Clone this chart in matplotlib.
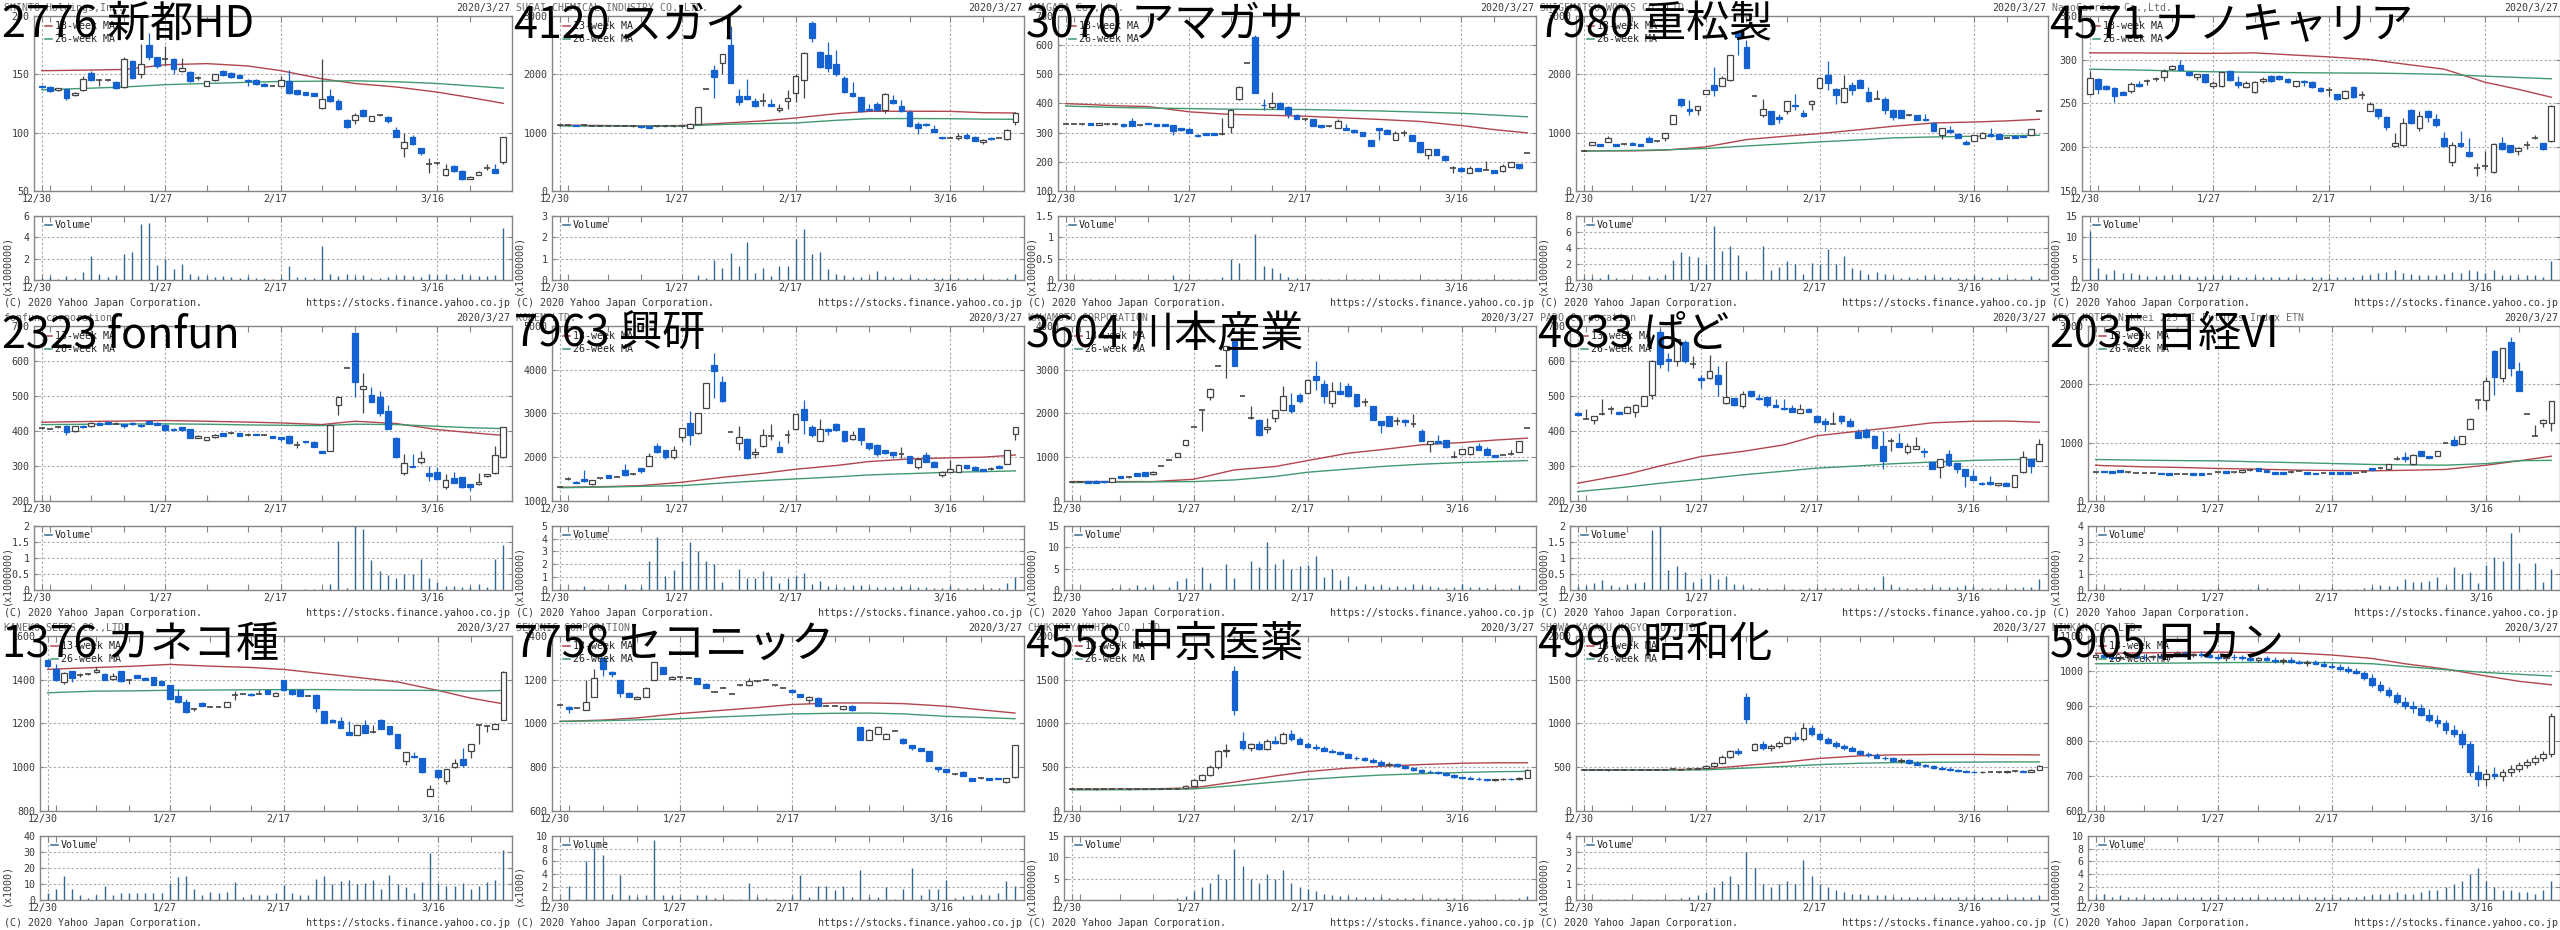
import matplotlib
matplotlib.use("Agg")
import matplotlib.pyplot as plt
from matplotlib.patches import Rectangle
from matplotlib.lines import Line2D
from matplotlib.transforms import ScaledTranslation

plt.rcParams["font.family"] = ["DejaVu Sans Mono"]

W, H = 2560, 930
PW, PH = 512, 310
FS = 7.2
BLUE = "#1462d0"
DARK = "#454545"
RED_MA = "#b3454c"
GREEN_MA = "#3f9a70"
VOL = "#33698e"
GRID = "#a9a9a9"
FRAME = "#858585"
TXT = "#3a3a3a"

# trading days 2019/12/30 - 2020/3/27
days = ["12/30", "1/6", "1/7", "1/8", "1/9", "1/10", "1/14", "1/15", "1/16", "1/17",
        "1/20", "1/21", "1/22", "1/23", "1/24", "1/27", "1/28", "1/29", "1/30", "1/31",
        "2/3", "2/4", "2/5", "2/6", "2/7", "2/10", "2/12", "2/13", "2/14",
        "2/17", "2/18", "2/19", "2/20", "2/21", "2/25", "2/26", "2/27", "2/28",
        "3/2", "3/3", "3/4", "3/5", "3/6", "3/9", "3/10", "3/11", "3/12", "3/13",
        "3/16", "3/17", "3/18", "3/19", "3/23", "3/24", "3/25", "3/26", "3/27"]
week_starts = ["12/30", "1/6", "1/14", "1/20", "1/27", "2/3", "2/10", "2/17",
               "2/25", "3/2", "3/9", "3/16", "3/23"]
major_days = ["12/30", "1/27", "2/17", "3/16"]
ma_days = week_starts + ["3/27"]

# ---------------- 2776 新都HD ----------------
ohlc_2776 = [
    (140, 141, 138, 139), (139, 140, 135, 135.5), (136, 138.5, 135.5, 138), (137, 137.5, 128, 130),
    (132, 135, 131.5, 134), (136, 148, 135.5, 146), (151, 153, 144, 145), (145, 146, 140, 145),
    (145, 146, 144, 145), (143.5, 144, 137, 138), (139, 165, 138, 163), (161, 162, 146, 147),
    (150, 176, 147, 159), (175, 185, 162, 165), (164.5, 165, 155, 157), (163, 174, 158, 163),
    (163, 164, 150, 154), (153, 164, 152, 155), (152, 153, 143, 144), (147, 148, 145, 147),
    (140, 144.5, 139.5, 144), (145, 150.5, 144.5, 150), (153, 153.5, 148.5, 149), (151, 151.5, 147, 147.4),
    (149.4, 149.5, 146.5, 147), (145, 145.5, 140, 144.5), (145, 145.5, 141, 141.4), (141.7, 142, 139.5, 140),
    (140, 141, 139.5, 140), (140, 148, 139.5, 145), (144.3, 153.7, 132.9, 134), (136, 136.5, 132.5, 133),
    (134.3, 134.5, 132, 132.3), (133.7, 134, 131, 131.4), (121.4, 162.9, 120, 129), (131.7, 137, 126, 126.6),
    (126.6, 128.9, 119.5, 120), (110.9, 111.5, 104, 105), (110.9, 116.6, 107.4, 115), (119.4, 120, 113.5, 114),
    (110, 114.5, 109.5, 114.3), (115, 116, 114, 115), (113.7, 114, 108, 110.3), (102.3, 105, 96, 96.6),
    (86.6, 99.4, 79.4, 91.7), (96.6, 97.5, 89.5, 90.3), (86.6, 87, 80.9, 82.9), (73, 78, 65.7, 72.9),
    (73.7, 75, 72, 73.7), (63.7, 72.9, 63, 68.6), (71.7, 72.5, 66.5, 67), (67.4, 68, 59.5, 60),
    (60.3, 62.8, 60, 62.3), (63.7, 66.8, 63.5, 66.6), (69.4, 73, 68, 69.4), (68.9, 73, 65.5, 65.7),
    (74.6, 96.5, 72.9, 96)]
vol_2776 = [0.15, 0.25, 0.06, 0.4, 0.15, 0.7, 2.2, 0.55, 0.25, 0.45, 2.45, 2.65, 5.25, 5.35, 1.4,
            2.0, 1.0, 1.5, 0.55, 0.35, 0.35, 0.3, 0.35, 0.25, 0.2, 0.25, 0.15, 0.2, 0.12, 0.2,
            1.3, 0.25, 0.25, 0.15, 3.2, 0.55, 0.4, 0.6, 0.3, 0.45, 0.2, 0.2, 0.3, 0.35, 0.45,
            0.35, 0.3, 0.55, 0.35, 0.6, 0.15, 0.55, 0.4, 0.35, 0.35, 0.45, 4.85]
ma13_2776 = [153, 153, 153.5, 154, 158, 159, 157, 153, 146, 142, 139, 134.6, 130, 125]
ma26_2776 = [136.6, 136.8, 138, 139, 141, 142, 143, 143.7, 144, 144.3, 143.5, 142, 140, 138]

# ---------------- 4120 スガイ ----------------
ohlc_4120 = [
    (1125, 1130, 1110, 1120), (1125, 1130, 1115, 1120), (1130, 1135, 1110, 1115), (1125, 1130, 1115, 1120),
    (1120, 1130, 1110, 1115), (1120, 1125, 1110, 1115), (1118, 1125, 1110, 1112), (1115, 1120, 1105, 1110),
    (1115, 1120, 1105, 1110), (1115, 1120, 1100, 1108), (1115, 1120, 1085, 1090), (1110, 1115, 1080, 1085),
    (1105, 1115, 1095, 1100), (1110, 1120, 1100, 1105), (1105, 1115, 1090, 1100), (1108, 1120, 1095, 1108),
    (1085, 1160, 1080, 1153), (1145, 1440, 1140, 1435), (1750, 1750, 1750, 1750), (2070, 2150, 1590, 1950),
    (2195, 2350, 2005, 2345), (2505, 2830, 1840, 1850), (1620, 1750, 1465, 1520), (1620, 1920, 1550, 1580),
    (1535, 1590, 1435, 1450), (1535, 1675, 1450, 1530), (1495, 1580, 1450, 1455), (1385, 1495, 1350, 1425),
    (1545, 1720, 1410, 1585), (1685, 2005, 1520, 1975), (1895, 2375, 1595, 2360), (2875, 2915, 2545, 2615),
    (2385, 2400, 2110, 2120), (2320, 2545, 2035, 2100), (2165, 2415, 1975, 1995), (1935, 1975, 1680, 1695),
    (1680, 1865, 1610, 1620), (1605, 1610, 1350, 1370), (1410, 1495, 1370, 1380), (1495, 1520, 1365, 1380),
    (1390, 1675, 1335, 1665), (1550, 1645, 1495, 1505), (1450, 1560, 1350, 1365), (1350, 1380, 1095, 1115),
    (1155, 1180, 983, 1080), (1155, 1165, 1120, 1130), (1055, 1125, 1005, 1010), (925, 930, 890, 900),
    (915, 920, 905, 915), (900, 985, 870, 935), (955, 985, 890, 900), (925, 940, 850, 860),
    (840, 890, 810, 880), (910, 920, 875, 885), (905, 915, 900, 910), (890, 1060, 880, 1050),
    (1185, 1350, 1125, 1340)]
vol_4120 = [0.02, 0.02, 0.02, 0.02, 0.02, 0.02, 0.02, 0.02, 0.02, 0.02, 0.02, 0.02, 0.02, 0.02, 0.02,
            0.02, 0.02, 0.23, 0.1, 0.95, 0.58, 1.25, 0.67, 1.77, 0.31, 0.58, 0.19, 0.63, 0.67, 1.92,
            2.39, 1.22, 1.3, 0.52, 0.28, 0.22, 0.16, 0.13, 0.08, 0.42, 0.19, 0.13, 0.11, 0.13, 0.08,
            0.11, 0.08, 0.08, 0.11, 0.11, 0.08, 0.08, 0.08, 0.06, 0.06, 0.08, 0.28]
ma13_4120 = [1125, 1125, 1120, 1115, 1120, 1160, 1200, 1250, 1323, 1363, 1365, 1363, 1340, 1335]
ma26_4120 = [1113, 1113, 1113, 1110, 1110, 1140, 1155, 1164, 1210, 1238, 1240, 1238, 1230, 1227]

# ---------------- 3070 アマガサ ----------------
ohlc_3070 = [
    (331, 333, 329, 330), (330, 332, 328, 330), (329, 331, 327, 329), (333, 334, 325, 326),
    (327, 334, 326, 333), (328, 330, 326, 328), (329, 333, 325, 329), (328, 329, 320, 321),
    (338, 351, 323, 324), (325, 327, 323, 325), (332, 333, 328, 329), (329, 330, 323, 324),
    (329, 330, 323, 324), (325, 326, 293, 305), (314, 315, 307, 308), (313, 314, 298, 299),
    (293, 294, 286, 287), (299, 300, 292, 293), (297, 298, 291, 292), (295, 350, 293, 296),
    (320, 380, 299, 377), (416, 458, 413, 456), (538, 538, 538, 538), (626, 634, 437, 437),
    (395, 414, 376, 393), (387, 439, 379, 402), (401, 405, 380, 382), (389, 390, 350, 362),
    (361, 362, 346, 347), (345, 350, 340, 345), (345, 346, 321, 322), (325, 326, 317, 318),
    (321, 322, 318, 320), (317, 347, 316, 340), (314, 330, 308, 309), (310, 311, 300, 301),
    (302, 303, 288, 289), (274, 275, 253, 254), (316, 317, 276, 310), (310, 311, 294, 295),
    (274, 305, 273, 298), (299, 310, 288, 299), (290, 291, 271, 272), (267, 268, 231, 232),
    (224, 245, 209, 244), (244, 245, 223, 224), (221, 222, 204, 205), (178, 186, 161, 178),
    (180, 181, 169, 170), (161, 186, 160, 178), (178, 179, 169, 170), (172, 203, 171, 173),
    (172, 173, 162, 163), (170, 191, 164, 187), (182, 199, 181, 198), (193, 194, 177, 178),
    (230, 230, 230, 230)]
vol_3070 = [0.02, 0.02, 0.02, 0.02, 0.02, 0.02, 0.02, 0.02, 0.02, 0.02, 0.02, 0.02, 0.02, 0.11, 0.02,
            0.02, 0.02, 0.02, 0.02, 0.08, 0.48, 0.39, 0.02, 1.07, 0.33, 0.27, 0.16, 0.06, 0.04, 0.03,
            0.02, 0.02, 0.02, 0.02, 0.02, 0.02, 0.02, 0.02, 0.02, 0.02, 0.02, 0.02, 0.02, 0.02, 0.02,
            0.02, 0.02, 0.02, 0.02, 0.02, 0.02, 0.03, 0.02, 0.02, 0.02, 0.02, 0.02]
ma13_3070 = [399, 398, 392, 389, 371, 362, 359, 356, 350, 345, 338, 324, 310, 299]
ma26_3070 = [391, 390, 386, 384, 382, 380, 379, 379, 376, 374, 370, 366, 360, 354]

# ---------------- 7980 重松製 ----------------
ohlc_7980 = [
    (690, 700, 680, 687), (795, 845, 790, 840), (805, 810, 770, 775), (841, 935, 835, 909),
    (801, 805, 770, 773), (801, 810, 790, 800), (829, 832, 790, 795), (801, 805, 770, 773),
    (909, 935, 835, 841), (852, 860, 845, 852), (915, 1000, 860, 995), (1153, 1300, 1150, 1295),
    (1580, 1590, 1437, 1478), (1410, 1560, 1300, 1363), (1380, 1450, 1300, 1448), (1665, 1735, 1660, 1730),
    (1818, 2130, 1620, 1732), (1795, 1975, 1790, 1935), (1905, 2330, 1890, 2330), (2725, 2745, 2320, 2630),
    (2470, 2585, 2100, 2100), (1620, 1620, 1620, 1620), (1295, 1580, 1265, 1397), (1363, 1370, 1125, 1153),
    (1265, 1320, 1165, 1240), (1363, 1545, 1320, 1534), (1475, 1665, 1380, 1450), (1340, 1380, 1265, 1285),
    (1494, 1550, 1390, 1534), (1766, 1950, 1750, 1937), (1977, 2232, 1721, 1846), (1750, 1755, 1494, 1647),
    (1522, 1977, 1505, 1761), (1806, 1860, 1640, 1732), (1903, 1920, 1760, 1761), (1693, 1775, 1520, 1534),
    (1580, 1720, 1570, 1575), (1580, 1610, 1325, 1380), (1392, 1395, 1221, 1267), (1380, 1385, 1250, 1255),
    (1295, 1310, 1280, 1295), (1295, 1300, 1215, 1221), (1238, 1325, 1205, 1210), (1164, 1170, 1020, 1028),
    (966, 1085, 897, 1079), (1040, 1105, 1000, 1005), (983, 990, 910, 915), (841, 880, 780, 812),
    (852, 958, 848, 954), (909, 1003, 905, 1000), (983, 1070, 930, 937), (971, 975, 893, 897),
    (915, 925, 905, 915), (943, 950, 905, 909), (949, 955, 922, 926), (966, 1060, 960, 1057),
    (1370, 1370, 1370, 1370)]
vol_7980 = [0.3, 0.2, 0.3, 0.75, 0.3, 0.15, 0.15, 0.1, 0.5, 0.3, 0.6, 2.5, 3.45, 3.0, 2.8,
            1.95, 6.75, 3.65, 4.25, 3.1, 1.1, 0.08, 4.25, 1.3, 1.65, 2.35, 1.95, 0.75, 2.15, 1.95,
            3.85, 1.95, 3.0, 1.55, 1.3, 0.75, 1.05, 0.75, 0.4, 0.3, 0.4, 0.3, 0.6, 0.4, 0.4,
            0.33, 0.3, 0.2, 0.5, 0.33, 0.3, 0.33, 0.2, 0.2, 0.15, 0.5, 0.2]
ma13_7980 = [687, 687, 687, 699, 755, 880, 940, 983, 1050, 1108, 1164, 1181, 1200, 1227]
ma26_7980 = [682, 684, 695, 705, 727, 770, 810, 841, 875, 909, 925, 937, 945, 954]

# ---------------- 4571 ナノキャリア ----------------
ohlc_4571 = [
    (261, 287, 260, 279), (278, 279, 261, 266), (270, 271, 265, 266), (268, 269, 251, 258),
    (262.6, 264, 259, 260), (264, 274, 262, 272), (272.5, 275, 269, 269.5), (275, 278, 271, 275),
    (278, 280, 275, 278), (280, 289, 276, 287), (289, 293.5, 288, 293), (294, 299, 288, 288.5),
    (285.5, 286, 281, 282), (280, 284, 277, 283), (283, 284, 273, 274), (270, 275, 268, 273),
    (269.5, 286, 269, 285.5), (287, 288, 276, 277), (274, 281, 268, 271), (269, 275, 268, 273),
    (262.6, 275, 262, 274), (275, 280, 273, 277.8), (281, 282, 274, 275), (281, 282, 277, 278),
    (278, 279, 273, 274), (270, 275.5, 269, 275), (276, 277, 270, 274), (274, 275, 268, 268.7),
    (268, 269, 263, 264), (265.6, 269, 258, 265.6), (260.7, 261, 254, 255), (256, 265, 255.5, 264.5),
    (268.7, 270, 256, 257), (259, 264, 255, 259), (241.6, 252, 241, 249.6), (243.5, 244, 232, 236),
    (234, 235, 220, 223), (200.8, 216, 200, 204.6), (202, 233, 201, 228), (242.7, 243, 227, 227.5),
    (221.8, 241, 219, 235), (241, 242, 229, 234), (232, 238, 223, 225.6), (210, 217, 200, 200.8),
    (183, 206, 178, 203), (204.6, 218, 200, 200.8), (195, 211, 189, 190), (176, 181.7, 167, 176),
    (179, 196, 174, 179), (172, 205, 171, 203.4), (205, 212, 197, 198), (202, 203, 193, 195),
    (196, 199.6, 191, 199.6), (202, 207, 198, 202), (211, 214, 209, 211), (204.6, 205, 197, 198),
    (206.5, 248, 206, 247)]
vol_4571 = [11.5, 2.9, 1.4, 2.3, 1.7, 1.7, 1.1, 0.9, 0.9, 1.1, 1.1, 1.4, 0.9, 0.8, 0.9,
            0.9, 1.1, 1.1, 0.8, 0.8, 0.8, 0.6, 0.8, 0.6, 0.6, 0.55, 0.55, 0.6, 0.6, 0.55,
            0.8, 0.8, 0.8, 1.1, 1.1, 1.6, 1.8, 2.3, 1.6, 1.4, 1.1, 1.1, 1.1, 1.4, 1.8,
            1.6, 2.3, 2.1, 1.7, 2.3, 1.1, 1.1, 0.8, 1.1, 1.1, 0.8, 4.5]
ma13_4571 = [307.6, 307.6, 307.5, 307.3, 307, 307.6, 305, 303, 300, 295, 289, 274, 266, 257]
ma26_4571 = [289, 288.8, 288, 287, 286, 285.5, 285, 284.7, 284.5, 284, 283, 281, 279.5, 278]

# ---------------- 2323 fonfun ----------------
ohlc_2323 = [
    (408, 410, 406, 408), (406.5, 409, 404, 406.5), (410, 412, 408, 410), (415, 416, 389, 396),
    (399, 414, 398, 413), (415, 416, 409, 410), (413, 424, 410, 423), (423, 424, 417, 418),
    (425, 426, 420, 421), (421, 424, 419, 421), (420, 421, 408, 415), (423, 424, 418, 419),
    (418, 419, 412, 413), (427.5, 428, 419, 420), (423, 424, 417, 418), (418, 419, 401, 402),
    (406.5, 407, 401, 402), (410, 411, 401, 402), (404, 405, 379, 380), (380, 387, 379, 386),
    (375, 383, 373, 382.6), (382.6, 390, 381, 389), (394, 395, 384, 384.5), (394, 396, 392, 394),
    (394, 395, 384, 384.5), (387, 394, 384, 387), (391, 392, 387, 388), (389, 391, 387, 389),
    (384.5, 385, 379, 380), (381.6, 382, 371, 377), (386, 387, 364, 365), (360.6, 370, 351, 360.6),
    (370, 371, 366, 367), (369, 370, 353, 354), (341.5, 342, 336, 336.7), (343, 420, 342, 418),
    (475, 499, 444, 497), (578, 578, 578, 578), (679, 680, 497, 540), (520, 564, 451, 528),
    (501, 526, 481, 482), (497, 513, 442, 450), (458, 473, 404, 405.5), (380, 382, 323, 325),
    (279, 335, 275, 308), (300, 335, 296, 296.5), (311, 342, 306, 322), (279, 300, 258, 270),
    (282, 297, 260, 262), (241, 276, 233, 260), (265, 283, 250, 250.7), (268, 269, 238, 239),
    (248.7, 249, 229, 239), (248, 279, 247, 253.5), (270, 278, 268, 276.5), (279, 358, 277, 331),
    (325, 412, 324, 411)]
vol_2323 = [0.01, 0.01, 0.01, 0.01, 0.01, 0.01, 0.01, 0.01, 0.01, 0.01, 0.01, 0.01, 0.01, 0.01, 0.01,
            0.01, 0.01, 0.01, 0.01, 0.01, 0.01, 0.01, 0.01, 0.01, 0.01, 0.01, 0.01, 0.01, 0.01, 0.01,
            0.01, 0.01, 0.02, 0.02, 0.03, 0.19, 1.51, 0.05, 2.0, 1.9, 0.92, 0.59, 0.47, 0.36, 0.5,
            0.5, 0.96, 0.36, 0.26, 0.12, 0.12, 0.08, 0.1, 0.19, 0.1, 0.96, 1.41]
ma13_2323 = [424.7, 425, 427, 428, 429.4, 427.5, 425, 422.7, 418, 427.5, 421, 403.6, 395, 387]
ma26_2323 = [418, 418, 419, 419.5, 420, 419, 417, 416, 415, 419, 418, 413, 409, 406.5]

# ---------------- 7963 興研 ----------------
ohlc_7963 = [
    (1328, 1335, 1320, 1328), (1504, 1550, 1480, 1504), (1443, 1450, 1415, 1420), (1496, 1710, 1440, 1465),
    (1381, 1485, 1375, 1480), (1519, 1530, 1510, 1519), (1595, 1600, 1515, 1519), (1557, 1565, 1550, 1557),
    (1710, 1850, 1560, 1595), (1610, 1640, 1600, 1610), (1748, 1760, 1650, 1694), (1809, 2090, 1800, 2038),
    (2244, 2320, 2090, 2129), (2167, 2170, 1960, 2000), (2000, 2260, 1950, 2167), (2457, 2670, 2358, 2663),
    (2778, 3045, 2282, 2495), (2549, 3010, 2540, 3007), (3121, 3700, 3115, 3693), (4113, 4380, 3350, 3960),
    (3709, 3846, 3270, 3274), (2572, 2572, 2572, 2572), (2320, 2717, 2167, 2457), (2419, 2430, 1960, 1977),
    (2076, 2200, 1980, 2129), (2244, 2648, 2240, 2510), (2488, 2750, 2400, 2488), (2228, 2380, 2120, 2129),
    (2510, 2610, 2320, 2510), (2640, 2995, 2630, 2991), (3106, 3312, 2534, 2839), (2686, 2740, 2470, 2510),
    (2373, 2869, 2365, 2640), (2648, 2660, 2510, 2587), (2755, 2780, 2600, 2610), (2587, 2595, 2340, 2358),
    (2412, 2590, 2400, 2511), (2663, 2670, 2280, 2381), (2320, 2325, 2160, 2205), (2282, 2290, 2030, 2076),
    (2167, 2170, 2080, 2091), (2114, 2120, 1980, 2053), (2068, 2240, 1980, 2068), (2030, 2035, 1870, 1877),
    (1770, 1960, 1740, 1954), (2053, 2115, 1895, 1900), (1900, 1905, 1765, 1770), (1595, 1675, 1540, 1671),
    (1671, 1940, 1665, 1725), (1671, 1850, 1660, 1824), (1824, 1830, 1740, 1748), (1786, 1795, 1700, 1710),
    (1725, 1730, 1690, 1694), (1733, 1780, 1700, 1733), (1809, 1815, 1755, 1763), (1847, 2170, 1840, 2167),
    (2534, 2690, 2381, 2679)]
vol_7963 = [0.08, 0.05, 0.05, 0.3, 0.08, 0.05, 0.05, 0.05, 0.47, 0.08, 0.2, 2.29, 4.11, 1.12, 1.56,
            2.29, 3.72, 3.0, 2.27, 2.03, 0.6, 0.05, 1.61, 0.91, 0.91, 1.48, 1.09, 0.57, 0.91, 1.12,
            1.3, 0.47, 0.7, 0.31, 0.26, 0.26, 0.39, 0.39, 0.2, 0.2, 0.26, 0.2, 0.31, 0.2, 0.26,
            0.2, 0.18, 0.18, 0.31, 0.18, 0.18, 0.18, 0.13, 0.18, 0.13, 0.57, 1.04]
ma13_7963 = [1313, 1315, 1330, 1351, 1427, 1540, 1633, 1725, 1810, 1900, 1960, 1985, 2000, 2050]
ma26_7963 = [1305, 1305, 1320, 1335, 1351, 1410, 1465, 1504, 1550, 1595, 1625, 1656, 1670, 1687]

# ---------------- 3604 川本産業 ----------------
ohlc_3604 = [
    (443, 450, 435, 443), (443, 450, 435, 443), (458, 462, 415, 420), (465, 470, 415, 420),
    (458, 462, 420, 427), (443, 525, 440, 519), (572, 575, 515, 519), (542, 580, 520, 542),
    (633, 640, 575, 580), (656, 660, 575, 580), (618, 675, 595, 671), (809, 809, 809, 809),
    (938, 938, 938, 938), (1000, 1095, 995, 1091), (1282, 1400, 1244, 1396), (1686, 1686, 1686, 1686),
    (2068, 2068, 1587, 2060), (2373, 2570, 2312, 2564), (3075, 3075, 3075, 3075), (3450, 3533, 2808, 3533),
    (3686, 3700, 3075, 3075), (2388, 2388, 2388, 2388), (1892, 2160, 1880, 1890), (1854, 1860, 1473, 1511),
    (1640, 1892, 1550, 1686), (1892, 2085, 1800, 2083), (2083, 2617, 2070, 2388), (2197, 2464, 2010, 2045),
    (2411, 2464, 2230, 2274), (2464, 2775, 2455, 2770), (2846, 3205, 2541, 2770), (2671, 2770, 2240, 2403),
    (2236, 2717, 2140, 2503), (2503, 2710, 2440, 2450), (2617, 2700, 2380, 2388), (2442, 2450, 2145, 2175),
    (2251, 2350, 2170, 2251), (2160, 2165, 1840, 1854), (1831, 1835, 1549, 1740), (1930, 1935, 1710, 1717),
    (1831, 1915, 1740, 1831), (1854, 1860, 1700, 1801), (1755, 1975, 1690, 1755), (1602, 1640, 1365, 1373),
    (1305, 1360, 1129, 1358), (1373, 1505, 1315, 1320), (1381, 1390, 1220, 1228), (1015, 1130, 985, 1015),
    (1076, 1190, 1070, 1183), (1076, 1260, 1060, 1221), (1244, 1320, 1160, 1167), (1183, 1230, 1045, 1053),
    (1053, 1060, 995, 1000), (1053, 1060, 1045, 1053), (1068, 1170, 1060, 1068), (1114, 1360, 1110, 1358),
    (1663, 1663, 1663, 1663)]
vol_3604 = [0.1, 0.1, 0.1, 0.1, 0.1, 0.4, 0.4, 0.4, 1.2, 0.8, 0.9, 0.05, 0.8, 2.1, 2.7,
            0.15, 5.3, 1.7, 0.05, 6.0, 2.7, 0.05, 6.8, 5.3, 11.2, 6.0, 7.2, 4.8, 5.6, 5.9,
            8.0, 3.0, 4.8, 2.3, 3.3, 0.9, 1.4, 0.9, 1.1, 0.6, 0.9, 0.8, 1.4, 0.9, 0.9,
            0.6, 0.55, 0.8, 1.3, 0.6, 0.8, 0.55, 0.4, 0.25, 0.4, 1.2, 0.15]
ma13_3604 = [443, 443, 443, 443, 496, 710, 786, 923, 1091, 1170, 1282, 1335, 1390, 1434]
ma26_3604 = [420, 422, 430, 438, 443, 481, 560, 656, 730, 786, 840, 877, 900, 923]

# ---------------- 4833 ぱど ----------------
ohlc_4833 = [
    (451.4, 455, 445, 446.6), (435, 461, 434, 435), (432, 443, 421, 442), (449.5, 490, 444, 449.5),
    (461, 471, 447, 461), (455, 456, 448, 449.5), (451, 470, 450, 467.7), (453, 476, 440, 475),
    (472, 500, 471, 499), (501, 601, 490, 600), (681, 690, 578, 590), (606, 622, 572, 598),
    (600, 663, 585, 662), (654, 660, 595, 600), (592, 613, 580, 592), (550, 560, 521, 544),
    (552, 616, 548, 571), (559.6, 585, 499, 535), (480, 600, 478, 497), (494, 495, 470, 475),
    (470, 513, 465, 504), (513.6, 515, 498, 499), (494.6, 504, 489, 490), (496, 497, 468, 475),
    (472.5, 490, 467, 468.6), (465, 490, 460, 461), (464, 473, 453, 454), (451, 478, 450, 461),
    (461, 466, 453, 454), (443.8, 445, 423, 424.7), (427.5, 437, 400, 420), (421, 453, 419, 421),
    (443.8, 445, 419, 427.5), (427.5, 437, 412, 413), (396, 404, 379, 380), (401.7, 409, 380, 381.6),
    (386, 387, 350, 351), (357.7, 399, 290.8, 313), (372, 380, 342, 372), (365, 395, 353, 354),
    (339.6, 366, 334, 356), (349, 383, 348, 357.7), (343, 352, 325, 338.6), (310, 311, 290, 290.8),
    (296.5, 320, 267, 319.5), (334, 346, 300, 301.3), (308, 309, 279, 291), (291, 292, 241, 270),
    (272.7, 288, 259, 260), (252.6, 253, 247, 248), (255.5, 270, 247, 248), (246, 252.6, 244, 252.6),
    (252.6, 253, 242, 243), (241, 275, 240, 274.5), (282, 342, 280, 325), (319.5, 320, 279, 298.5),
    (314.7, 377, 313, 362.5)]
vol_4833 = [0.1, 0.12, 0.21, 0.31, 0.15, 0.1, 0.15, 0.21, 0.25, 1.87, 2.0, 0.62, 0.75, 0.57, 0.26,
            0.36, 0.49, 0.33, 0.45, 0.19, 0.12, 0.05, 0.07, 0.05, 0.04, 0.05, 0.04, 0.04, 0.05, 0.07,
            0.07, 0.05, 0.05, 0.05, 0.05, 0.07, 0.08, 0.42, 0.15, 0.08, 0.07, 0.07, 0.07, 0.1, 0.1,
            0.1, 0.1, 0.15, 0.1, 0.07, 0.07, 0.05, 0.05, 0.07, 0.1, 0.08, 0.33]
ma13_4833 = [250.7, 255, 276.5, 300, 327, 341.5, 360, 386, 399, 409, 423, 427.5, 428, 424.7]
ma26_4833 = [226.8, 229, 240, 250.7, 262, 274.6, 285, 293.7, 300, 306, 311, 315.7, 318, 319.5]

# ---------------- 2035 日経VI ----------------
ohlc_2035 = [
    (488, 495, 482, 488), (517, 520, 490, 494), (506, 510, 480, 483), (523, 527, 497, 500),
    (488, 492, 484, 488), (483, 487, 480, 483), (483, 487, 480, 483), (483, 487, 480, 483),
    (483, 486, 457, 460), (471, 475, 446, 449), (460, 464, 456, 460), (460, 464, 456, 460),
    (471, 475, 446, 449), (471, 475, 446, 449), (460, 464, 456, 460), (488, 492, 484, 488),
    (511, 515, 480, 483), (488, 492, 484, 488), (488, 532, 485, 528), (523, 527, 519, 523),
    (557, 560, 515, 517), (528, 532, 497, 500), (488, 492, 463, 466), (488, 492, 463, 466),
    (500, 535, 480, 500), (511, 515, 507, 511), (488, 492, 463, 466), (483, 486, 457, 460),
    (477, 481, 473, 477), (488, 492, 463, 466), (488, 492, 463, 466), (488, 492, 463, 466),
    (483, 487, 480, 483), (500, 504, 496, 500), (557, 560, 525, 528), (557, 561, 553, 557),
    (545, 628, 540, 625), (727, 770, 700, 727), (755, 840, 670, 716), (625, 805, 620, 795),
    (858, 860, 768, 772), (772, 776, 740, 744), (772, 856, 768, 852), (994, 994, 994, 994),
    (1039, 1120, 937, 954), (983, 1117, 980, 1113), (1238, 1413, 1234, 1409), (1721, 1721, 1568, 1721),
    (1732, 2119, 1550, 2050), (2573, 2580, 1806, 2119), (2107, 2617, 2034, 2613), (2726, 2812, 2147, 2278),
    (2232, 2385, 1880, 1891), (1494, 1494, 1494, 1494), (1108, 1295, 1108, 1108), (1340, 1400, 1267, 1392),
    (1340, 1710, 1198, 1704)]
vol_2035 = [0.1, 0.08, 0.06, 0.1, 0.06, 0.06, 0.06, 0.06, 0.08, 0.06, 0.06, 0.06, 0.06, 0.06, 0.06,
            0.1, 0.06, 0.06, 0.08, 0.08, 0.17, 0.1, 0.08, 0.08, 0.06, 0.08, 0.06, 0.06, 0.06, 0.1,
            0.08, 0.08, 0.08, 0.15, 0.17, 0.31, 0.25, 0.25, 0.67, 0.52, 0.52, 0.58, 0.83, 0.17, 1.4,
            0.98, 1.15, 0.46, 1.56, 2.08, 1.83, 3.54, 1.7, 0.04, 1.7, 0.52, 1.31]
ma13_2035 = [613, 605, 585, 575, 557, 545, 528, 522, 517, 525, 540, 613, 687, 767]
ma26_2035 = [710, 708, 698, 692, 687, 670, 655, 642, 625, 618, 613, 640, 690, 695]

# ---------------- 1376 カネコ種 ----------------
ohlc_1376 = [
    (1487, 1495, 1455, 1461), (1446, 1470, 1395, 1397), (1389, 1434, 1381, 1431), (1438, 1440, 1389, 1408),
    (1420, 1431, 1411, 1420), (1426, 1428, 1422, 1426), (1434, 1457, 1430, 1443), (1426, 1428, 1398, 1400),
    (1403, 1431, 1400, 1415), (1438, 1440, 1389, 1392), (1400, 1402, 1381, 1400), (1420, 1422, 1406, 1408),
    (1408, 1410, 1398, 1400), (1411, 1413, 1375, 1377), (1392, 1395, 1370, 1373), (1373, 1376, 1310, 1313),
    (1327, 1357, 1295, 1298), (1298, 1313, 1245, 1252), (1267, 1269, 1255, 1267), (1293, 1296, 1279, 1281),
    (1275, 1277, 1273, 1275), (1275, 1277, 1273, 1275), (1275, 1298, 1273, 1296), (1331, 1346, 1308, 1331),
    (1334, 1336, 1332, 1334), (1336, 1338, 1325, 1328), (1336, 1350, 1334, 1336), (1350, 1352, 1334, 1336),
    (1327, 1341, 1325, 1339), (1397, 1399, 1348, 1350), (1351, 1353, 1330, 1336), (1350, 1352, 1325, 1327),
    (1327, 1331, 1325, 1327), (1331, 1333, 1250, 1270), (1255, 1257, 1200, 1202), (1217, 1219, 1203, 1205),
    (1212, 1229, 1177, 1179), (1160, 1212, 1146, 1148), (1148, 1193, 1146, 1191), (1191, 1217, 1154, 1156),
    (1159, 1194, 1157, 1159), (1217, 1220, 1172, 1174), (1186, 1188, 1149, 1151), (1151, 1153, 1085, 1087),
    (1026, 1069, 1008, 1067), (1052, 1067, 1044, 1046), (1041, 1043, 975, 977), (870, 919, 868, 899),
    (985, 987, 945, 954), (939, 993, 922, 991), (1000, 1037, 998, 1018), (1037, 1089, 1003, 1011),
    (1072, 1107, 1040, 1105), (1191, 1191, 1105, 1191), (1189, 1193, 1160, 1189), (1174, 1199, 1172, 1197),
    (1217, 1437, 1215, 1435)]
vol_1376 = [4.2, 6.7, 15, 6.7, 3.1, 1.5, 3.1, 9.0, 2.9, 4.6, 4.6, 4.2, 4.2, 4.6, 4.6,
            10.8, 14.6, 15, 6.7, 3.1, 5.2, 4.6, 5.2, 11, 2.1, 2.9, 3.1, 2.9, 4.6, 9.4,
            4.6, 3.1, 2.9, 13.1, 15, 9.8, 11.9, 12.5, 9.8, 10.4, 12.5, 6.7, 15.6, 9.8, 8.3,
            4.6, 11, 29.2, 10.4, 9, 9, 10.4, 6.7, 9, 11, 12.5, 31.2]
ma13_1376 = [1446, 1448, 1455, 1460, 1469, 1461, 1455, 1446, 1426, 1410, 1389, 1350, 1315, 1289]
ma26_1376 = [1339, 1341, 1347, 1348, 1351, 1352, 1353, 1354, 1354, 1352, 1351, 1350, 1347, 1350]

# ---------------- 7758 セコニック (3 days without trades) ----------------
skip_7758 = ["1/9", "2/6", "3/4"]
ohlc_7758 = [
    (1083, 1085, 1081, 1083), (1075, 1077, 1047, 1067), (1070, 1072, 1068, 1070), (1063, 1197, 1061, 1096),
    (1121, 1249, 1119, 1205), (1299, 1301, 1215, 1249), (1235, 1237, 1212, 1226), (1196, 1198, 1121, 1139),
    (1139, 1141, 1119, 1121), (1112, 1123, 1110, 1121), (1121, 1164, 1119, 1162), (1200, 1282, 1198, 1280),
    (1257, 1259, 1224, 1226), (1203, 1217, 1201, 1212), (1211, 1213, 1196, 1211), (1208, 1210, 1206, 1208),
    (1206, 1208, 1178, 1180), (1180, 1182, 1160, 1162), (1144, 1146, 1142, 1144), (1162, 1164, 1160, 1162),
    (1134, 1136, 1132, 1134), (1173, 1175, 1171, 1173), (1173, 1207, 1171, 1192), (1192, 1194, 1190, 1192),
    (1199, 1201, 1197, 1199), (1173, 1175, 1171, 1173), (1162, 1164, 1160, 1162), (1154, 1156, 1140, 1142),
    (1134, 1136, 1119, 1121), (1108, 1123, 1094, 1121), (1116, 1118, 1079, 1081), (1081, 1083, 1079, 1081),
    (1081, 1083, 1079, 1081), (1066, 1080, 1060, 1078), (1081, 1083, 1058, 1060), (983, 985, 923, 925),
    (925, 973, 923, 971), (953, 985, 951, 983), (930, 958, 928, 951), (966, 968, 964, 966),
    (930, 932, 908, 910), (899, 901, 880, 887), (887, 889, 873, 875), (872, 874, 827, 829),
    (800, 802, 780, 791), (791, 793, 775, 777), (768, 770, 766, 768), (780, 782, 758, 760),
    (750, 752, 735, 737), (750, 752, 748, 750), (750, 752, 740, 742), (750, 752, 744, 746),
    (731, 752, 726, 750), (754, 901, 752, 899)]
vol_7758 = [0.1, 2.1, 0.1, 6.0, 8.1, 7.0, 1.0, 3.9, 0.8, 0.5, 0.8, 9.3, 0.8, 0.8, 0.5,
            0.1, 0.8, 0.8, 0.25, 0.25, 0.1, 0.1, 2.6, 0.4, 0.25, 0.15, 0.1, 0.6, 3.9, 0.4,
            2.2, 2.1, 1.6, 2.1, 0.5, 4.6, 0.5, 0.5, 2.0, 0.1, 1.7, 4.9, 0.8, 1.7, 1.7,
            3.1, 0.35, 0.6, 0.8, 0.8, 0.8, 1.1, 2.9, 2.2]
ma13_7758 = [1009, 1010, 1015, 1025, 1045, 1060, 1072, 1086, 1093, 1093, 1090, 1078, 1062, 1047]
ma26_7758 = [1009, 1009, 1012, 1016, 1021, 1030, 1036, 1043, 1046, 1047, 1043, 1032, 1027, 1021]

# ---------------- 4558 中京医薬 (read from the small view) ----------------
ohlc_4558 = [
    (250, 258, 246, 252), (252, 256, 248, 250), (250, 254, 246, 248), (248, 252, 244, 250),
    (250, 254, 246, 252), (252, 256, 248, 250), (250, 254, 246, 249), (249, 253, 245, 251),
    (251, 255, 247, 250), (250, 254, 246, 252), (252, 256, 248, 254), (254, 258, 250, 252),
    (252, 256, 248, 255), (255, 262, 252, 260), (260, 300, 258, 290), (290, 360, 288, 350),
    (350, 420, 345, 410), (410, 520, 400, 500), (500, 700, 480, 680), (680, 760, 620, 700),
    (1600, 1650, 1100, 1150), (800, 900, 700, 720), (720, 780, 680, 760), (760, 800, 700, 710),
    (710, 820, 700, 800), (800, 860, 760, 780), (780, 900, 760, 880), (880, 920, 800, 820),
    (820, 840, 760, 770), (770, 790, 720, 730), (730, 760, 700, 720), (720, 740, 680, 690),
    (690, 710, 660, 670), (670, 690, 640, 650), (650, 660, 600, 610), (610, 630, 580, 600),
    (600, 620, 570, 580), (580, 600, 550, 560), (560, 580, 520, 530), (530, 560, 510, 540),
    (540, 550, 500, 510), (510, 530, 480, 490), (490, 500, 460, 470), (470, 480, 440, 450),
    (450, 470, 430, 440), (440, 460, 420, 430), (430, 440, 400, 410), (410, 420, 380, 390),
    (390, 400, 370, 380), (380, 400, 360, 370), (370, 390, 350, 360), (360, 370, 340, 350),
    (350, 370, 340, 360), (360, 380, 350, 370), (370, 380, 355, 360), (360, 390, 355, 380),
    (380, 480, 375, 470)]
vol_4558 = [0.1, 0.1, 0.1, 0.1, 0.1, 0.1, 0.1, 0.1, 0.1, 0.1, 0.1, 0.1, 0.2, 0.5, 1.0,
            2.0, 3.0, 4.0, 6.0, 5.0, 12.0, 8.0, 5.0, 4.0, 6.0, 5.0, 7.0, 4.0, 3.0, 2.5,
            2.0, 1.5, 1.2, 1.0, 1.0, 0.8, 0.8, 0.6, 0.6, 0.5, 0.5, 0.5, 0.4, 0.4, 0.4,
            0.4, 0.4, 0.4, 0.3, 0.3, 0.3, 0.3, 0.3, 0.3, 0.3, 0.4, 1.0]
ma13_4558 = [250, 250, 251, 252, 265, 330, 400, 450, 490, 510, 530, 545, 550, 550]
ma26_4558 = [240, 241, 243, 245, 252, 290, 330, 360, 390, 410, 425, 440, 448, 452]

# ---------------- 4990 昭和化 (read from the small view) ----------------
ohlc_4990 = [
    (470, 480, 465, 472), (472, 478, 466, 470), (470, 476, 464, 468), (468, 474, 462, 470),
    (470, 476, 464, 472), (472, 478, 466, 470), (470, 476, 464, 469), (469, 475, 463, 471),
    (471, 477, 465, 470), (470, 476, 464, 472), (472, 478, 466, 474), (474, 480, 468, 472),
    (472, 478, 466, 475), (475, 485, 470, 480), (480, 495, 475, 490), (490, 520, 485, 510),
    (510, 560, 500, 550), (550, 640, 540, 620), (620, 700, 600, 680), (680, 720, 640, 660),
    (1300, 1350, 1000, 1050), (700, 780, 680, 760), (760, 800, 700, 720), (720, 760, 690, 740),
    (740, 800, 720, 780), (780, 860, 760, 840), (840, 900, 800, 820), (820, 1000, 800, 950),
    (950, 980, 850, 880), (880, 900, 800, 820), (820, 840, 760, 780), (780, 800, 720, 740),
    (740, 760, 700, 720), (720, 740, 680, 690), (690, 700, 640, 650), (650, 670, 620, 640),
    (640, 660, 600, 610), (610, 630, 580, 600), (600, 620, 560, 570), (570, 600, 550, 580),
    (580, 590, 540, 550), (550, 570, 520, 530), (530, 540, 500, 510), (510, 520, 480, 490),
    (490, 510, 470, 480), (480, 500, 460, 470), (470, 480, 450, 460), (460, 470, 440, 450),
    (450, 460, 430, 440), (440, 460, 430, 450), (450, 460, 440, 445), (445, 455, 435, 440),
    (440, 460, 435, 455), (455, 470, 450, 460), (460, 470, 445, 450), (450, 480, 445, 470),
    (470, 520, 465, 510)]
vol_4990 = [0.05, 0.05, 0.05, 0.05, 0.05, 0.05, 0.05, 0.05, 0.05, 0.05, 0.05, 0.05, 0.1, 0.2, 0.3,
            0.5, 0.8, 1.2, 1.5, 1.0, 3.0, 2.0, 1.0, 0.8, 1.0, 1.2, 1.0, 2.5, 1.5, 1.0,
            0.8, 0.6, 0.5, 0.4, 0.4, 0.3, 0.3, 0.3, 0.2, 0.2, 0.2, 0.2, 0.2, 0.2, 0.2,
            0.2, 0.2, 0.2, 0.2, 0.2, 0.2, 0.2, 0.2, 0.2, 0.2, 0.2, 0.3]
ma13_4990 = [470, 470, 471, 472, 480, 520, 560, 600, 630, 640, 645, 645, 642, 640]
ma26_4990 = [465, 465, 466, 467, 470, 490, 510, 530, 545, 552, 556, 558, 560, 560]

# ---------------- 5905 日カン (read from the small view) ----------------
ohlc_5905 = [
    (1040, 1050, 1030, 1045), (1045, 1052, 1035, 1040), (1040, 1048, 1032, 1035), (1035, 1045, 1030, 1040),
    (1040, 1050, 1035, 1045), (1045, 1050, 1035, 1040), (1040, 1048, 1032, 1038), (1038, 1045, 1030, 1042),
    (1042, 1050, 1035, 1040), (1040, 1048, 1032, 1045), (1045, 1055, 1040, 1050), (1050, 1055, 1040, 1045),
    (1045, 1052, 1038, 1048), (1048, 1055, 1040, 1045), (1045, 1050, 1035, 1040), (1040, 1048, 1030, 1035),
    (1035, 1045, 1028, 1040), (1040, 1048, 1032, 1038), (1038, 1045, 1030, 1035), (1035, 1042, 1028, 1032),
    (1032, 1040, 1025, 1035), (1035, 1042, 1028, 1030), (1030, 1038, 1022, 1028), (1028, 1035, 1020, 1030),
    (1030, 1038, 1022, 1025), (1025, 1032, 1018, 1022), (1022, 1030, 1015, 1025), (1025, 1032, 1018, 1020),
    (1020, 1028, 1012, 1015), (1015, 1022, 1008, 1010), (1012, 1020, 1000, 1005), (1005, 1015, 995, 1000),
    (1000, 1008, 990, 995), (995, 1000, 975, 980), (980, 990, 955, 960), (960, 970, 940, 945),
    (945, 955, 925, 930), (930, 940, 905, 910), (910, 925, 890, 900), (900, 915, 880, 895),
    (895, 905, 870, 875), (875, 890, 855, 860), (860, 875, 840, 850), (850, 860, 820, 830),
    (830, 845, 810, 820), (820, 830, 780, 790), (790, 800, 700, 710), (710, 730, 670, 690),
    (690, 720, 670, 705), (705, 725, 690, 700), (700, 720, 685, 712), (712, 730, 700, 720),
    (720, 740, 710, 732), (732, 748, 722, 740), (740, 760, 730, 752), (752, 770, 742, 762),
    (762, 880, 755, 870)]
vol_5905 = [0.5, 1.0, 0.5, 0.8, 0.5, 0.5, 0.4, 0.4, 0.5, 0.4, 0.5, 0.4, 0.4, 0.5, 0.4,
            0.5, 0.4, 0.4, 0.5, 0.4, 0.4, 0.4, 0.4, 0.4, 0.4, 0.4, 0.4, 0.4, 0.4, 0.5,
            0.5, 0.5, 0.5, 0.6, 0.8, 1.0, 1.0, 1.2, 1.0, 1.0, 1.2, 1.5, 1.5, 2.0, 2.5,
            3.0, 4.0, 5.0, 3.0, 2.0, 1.5, 1.5, 1.2, 1.2, 1.0, 1.5, 3.0]
ma13_5905 = [1050, 1050, 1051, 1052, 1053, 1052, 1050, 1045, 1035, 1020, 1005, 985, 970, 960]
ma26_5905 = [1020, 1020, 1021, 1022, 1023, 1024, 1024, 1023, 1020, 1012, 1003, 995, 990, 985]


def add_ax(fig, x0, y0, x1, y1):
    return fig.add_axes([x0 / W, 1 - y1 / H, (x1 - x0) / W, (y1 - y0) / H])


def ftext(fig, x, y, s, **kw):
    kw.setdefault("fontsize", FS)
    kw.setdefault("color", TXT)
    kw.setdefault("va", "center")
    fig.text(x / W, 1 - y / H, s, **kw)


def fdash(fig, x0, x1, y, color):
    fig.add_artist(Line2D([x0 / W, x1 / W], [1 - y / H, 1 - y / H], color=color,
                          lw=1.1, transform=fig.transFigure))


def lab(v):
    return f"{v:g}"


def draw_chart(fig, col, row, title, company, ohlc, vol, ma13, ma26,
               pticks, vticks, vunit, skip=()):
    ox, oy = col * PW, row * PH
    dlist = [d for d in days if d not in skip]
    n = len(dlist)
    assert len(ohlc) == n and len(vol) == n, (title, len(ohlc), len(vol), n)
    wide = max(len(lab(t)) for t in list(pticks) + list(vticks)) >= 4
    left = ox + (39.5 if wide else 33.5)
    right = ox + 511.5
    ax = add_ax(fig, left, oy + 15.7, right, oy + 191)
    vax = add_ax(fig, left, oy + 215.7, right, oy + 280)

    tiny = (pticks[-1] - pticks[0]) * 0.003
    for i, (o, h, l, c) in enumerate(ohlc):
        if abs(c - o) <= tiny:
            ax.vlines(i, l, h, color=DARK, lw=0.9, zorder=3)
            ax.hlines(o, i - 0.36, i + 0.36, color=DARK, lw=1.2, zorder=4)
        elif c > o:
            ax.vlines(i, l, h, color=DARK, lw=0.9, zorder=3)
            ax.add_patch(Rectangle((i - 0.35, o), 0.7, c - o, facecolor="white",
                                   edgecolor=DARK, lw=0.9, zorder=4))
        else:
            ax.vlines(i, l, h, color=BLUE, lw=0.9, zorder=3)
            ax.add_patch(Rectangle((i - 0.35, c), 0.7, o - c, facecolor=BLUE,
                                   edgecolor=BLUE, lw=0.9, zorder=4))

    mx = [dlist.index(d) for d in ma_days]
    ax.plot(mx, ma13, color=RED_MA, lw=1.0, zorder=2)
    ax.plot(mx, ma26, color=GREEN_MA, lw=1.0, zorder=2)
    vax.vlines(range(n), 0, vol, color=VOL, lw=1.0, zorder=3)

    major = [dlist.index(d) for d in major_days]
    minor = [dlist.index(d) for d in week_starts if d not in major_days]
    for a, ticks in ((ax, pticks), (vax, vticks)):
        a.set_xlim(-1, n)
        a.set_ylim(ticks[0], ticks[-1])
        a.set_yticks(ticks, [lab(t) for t in ticks])
        a.set_xticks(major, major_days)
        a.set_xticks(minor, minor=True)
        a.tick_params(axis="x", which="both", direction="in", top=True, bottom=True,
                      length=4, width=0.8, color=FRAME, labelsize=FS, labelcolor=TXT, pad=2.5)
        a.tick_params(axis="y", direction="in", left=True, right=True, length=3,
                      width=0.8, color=FRAME, labelsize=FS, labelcolor=TXT, pad=3)
        a.grid(True, which="major", color=GRID, linestyle=(0, (2, 2)), lw=0.8)
        a.set_axisbelow(True)
        for s in a.spines.values():
            s.set_color(FRAME)
            s.set_linewidth(1)
        for t in a.get_xticklabels():
            t.set_transform(t.get_transform() + ScaledTranslation(-0.05, 0, fig.dpi_scale_trans))

    # legends
    fdash(fig, left + 11.5, left + 18.5, oy + 26, RED_MA)
    ftext(fig, left + 21.5, oy + 26, "13-week MA", color="#222222")
    fdash(fig, left + 11.5, left + 18.5, oy + 39, GREEN_MA)
    ftext(fig, left + 21.5, oy + 39, "26-week MA", color="#222222")
    fdash(fig, left + 11.5, left + 18.5, oy + 225, VOL)
    ftext(fig, left + 21.5, oy + 225, "Volume", color="#222222")

    # header / footer
    ftext(fig, ox + 4, oy + 8, company, color="#6a6a6a")
    ftext(fig, ox + 510, oy + 8, "2020/3/27", ha="right")
    ftext(fig, ox + 6, oy + 265, vunit, rotation=90, ha="center")
    ftext(fig, ox + 4, oy + 303, "(C) 2020 Yahoo Japan Corporation.")
    ftext(fig, ox + 510, oy + 303, "https://stocks.finance.yahoo.co.jp", ha="right")

    # big overlay title
    fig.text((ox + 2) / W, 1 - (oy + 37) / H, title, fontsize=31, color="black",
             va="baseline", family=["Noto Sans CJK JP", "DejaVu Sans"], zorder=10)


fig = plt.figure(figsize=(W / 100, H / 100), dpi=100)
fig.patch.set_facecolor("white")

M6 = "(x1000000)"
M3 = "(x1000)"
draw_chart(fig, 0, 0, "2776 新都HD", "SHINTO Holdings,Inc.", ohlc_2776, vol_2776, ma13_2776, ma26_2776,
           [50, 100, 150, 200], [0, 2, 4, 6], M6)
draw_chart(fig, 1, 0, "4120 スガイ", "SUGAI CHEMICAL INDUSTRY CO.,LTD.", ohlc_4120, vol_4120, ma13_4120, ma26_4120,
           [0, 1000, 2000, 3000], [0, 1, 2, 3], M6)
draw_chart(fig, 2, 0, "3070 アマガサ", "AMAGASA Co.,Ltd.", ohlc_3070, vol_3070, ma13_3070, ma26_3070,
           [100, 200, 300, 400, 500, 600, 700], [0, 0.5, 1, 1.5], M6)
draw_chart(fig, 3, 0, "7980 重松製", "SHIGEMATSU WORKS CO.,LTD.", ohlc_7980, vol_7980, ma13_7980, ma26_7980,
           [0, 1000, 2000, 3000], [0, 2, 4, 6, 8], M6)
draw_chart(fig, 4, 0, "4571 ナノキャリア", "NanoCarrier Co.,Ltd.", ohlc_4571, vol_4571, ma13_4571, ma26_4571,
           [150, 200, 250, 300, 350], [0, 5, 10, 15], M6)
draw_chart(fig, 0, 1, "2323 fonfun", "fonfun corporation", ohlc_2323, vol_2323, ma13_2323, ma26_2323,
           [200, 300, 400, 500, 600, 700], [0, 0.5, 1, 1.5, 2], M6)
draw_chart(fig, 1, 1, "7963 興研", "KOKEN LTD.", ohlc_7963, vol_7963, ma13_7963, ma26_7963,
           [1000, 2000, 3000, 4000, 5000], [0, 1, 2, 3, 4, 5], M6)
draw_chart(fig, 2, 1, "3604 川本産業", "KAWAMOTO CORPORATION", ohlc_3604, vol_3604, ma13_3604, ma26_3604,
           [0, 1000, 2000, 3000, 4000], [0, 5, 10, 15], M6)
draw_chart(fig, 3, 1, "4833 ぱど", "PADO Corporation", ohlc_4833, vol_4833, ma13_4833, ma26_4833,
           [200, 300, 400, 500, 600, 700], [0, 0.5, 1, 1.5, 2], M6)
draw_chart(fig, 4, 1, "2035 日経VI", "NEXT NOTES Nikkei 225 VI Futures Index ETN", ohlc_2035, vol_2035,
           ma13_2035, ma26_2035, [0, 1000, 2000, 3000], [0, 1, 2, 3, 4], M6)
draw_chart(fig, 0, 2, "1376 カネコ種", "KANEKO SEEDS CO.,LTD.", ohlc_1376, vol_1376, ma13_1376, ma26_1376,
           [800, 1000, 1200, 1400, 1600], [0, 10, 20, 30, 40], M3)
draw_chart(fig, 1, 2, "7758 セコニック", "SEKONIC CORPORATION", ohlc_7758, vol_7758, ma13_7758, ma26_7758,
           [600, 800, 1000, 1200, 1400], [0, 2, 4, 6, 8, 10], M3, skip=skip_7758)
draw_chart(fig, 2, 2, "4558 中京医薬", "CHUKYOIYAKUHIN CO.,LTD.", ohlc_4558, vol_4558, ma13_4558, ma26_4558,
           [0, 500, 1000, 1500, 2000], [0, 5, 10, 15], M6)
draw_chart(fig, 3, 2, "4990 昭和化", "SHOWA KAGAKU KOGYO CO.,LTD.", ohlc_4990, vol_4990, ma13_4990, ma26_4990,
           [0, 500, 1000, 1500, 2000], [0, 1, 2, 3, 4], M6)
draw_chart(fig, 4, 2, "5905 日カン", "NIKKAN CO.,LTD.", ohlc_5905, vol_5905, ma13_5905, ma26_5905,
           [600, 700, 800, 900, 1000, 1100], [0, 2, 4, 6, 8, 10], M6)

fig.savefig("out.png", dpi=100, facecolor="white")
